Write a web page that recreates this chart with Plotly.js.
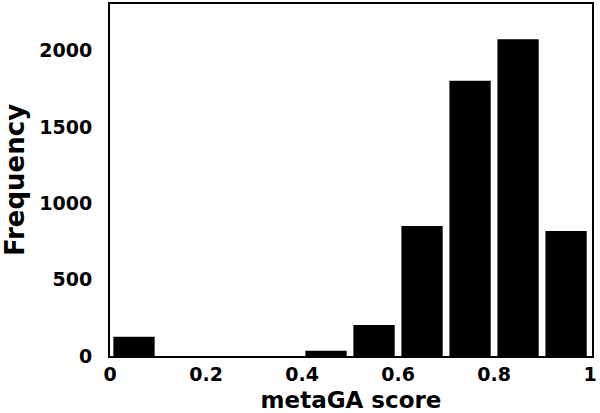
<!DOCTYPE html>
<html>
<head>
<meta charset="utf-8">
<script src="https://cdn.plot.ly/plotly-3.0.1.min.js"></script>
<style>
  body { margin: 0; background: #fff; }
  #chart { width: 600px; height: 413px; }
</style>
</head>
<body>
<div id="chart"></div>
<script>
// histogram bins of metaGA score (bin centres) and counts
var binCentres = [0.05, 0.15, 0.25, 0.35, 0.45, 0.55, 0.65, 0.75, 0.85, 0.95];
var counts = [126, 0, 0, 0, 35, 203, 851, 1803, 2074, 819];
var xTicks = [0, 0.2, 0.4, 0.6, 0.8, 1];
var xTickText = ["0", "0.2", "0.4", "0.6", "0.8", "1"];
var yTicks = [0, 500, 1000, 1500, 2000];

var trace = {
    x: binCentres,
    y: counts,
    type: "bar",
    width: 0.086,
    marker: {color: "#000000", line: {width: 0}},
    hoverinfo: "skip"
};

var font = "DejaVu Sans, sans-serif";

var layout = {
    width: 600,
    height: 413,
    margin: {l: 110, r: 8, t: 4, b: 57},
    paper_bgcolor: "#ffffff",
    plot_bgcolor: "#ffffff",
    showlegend: false,
    font: {family: font, color: "#000000"},
    xaxis: {
        range: [0, 1.004],
        tickvals: xTicks,
        ticktext: xTickText,
        showgrid: false,
        zeroline: false,
        showline: true,
        mirror: true,
        linecolor: "#000000",
        linewidth: 2,
        ticks: "",
        ticklabelstandoff: 0,
        tickfont: {family: font, size: 19, weight: "bold"},
        title: {text: "metaGA score", font: {family: font, size: 23, weight: "bold"}, standoff: 8}
    },
    yaxis: {
        range: [0, 2305],
        tickvals: yTicks,
        showgrid: false,
        zeroline: false,
        showline: true,
        mirror: true,
        linecolor: "#000000",
        linewidth: 2,
        ticks: "",
        ticklabelstandoff: 12,
        tickfont: {family: font, size: 19, weight: "bold"},
        title: {text: "Frequency", font: {family: font, size: 26, weight: "bold"}, standoff: 14}
    }
};

Plotly.newPlot("chart", [trace], layout, {displayModeBar: false, staticPlot: true});
</script>
</body>
</html>
